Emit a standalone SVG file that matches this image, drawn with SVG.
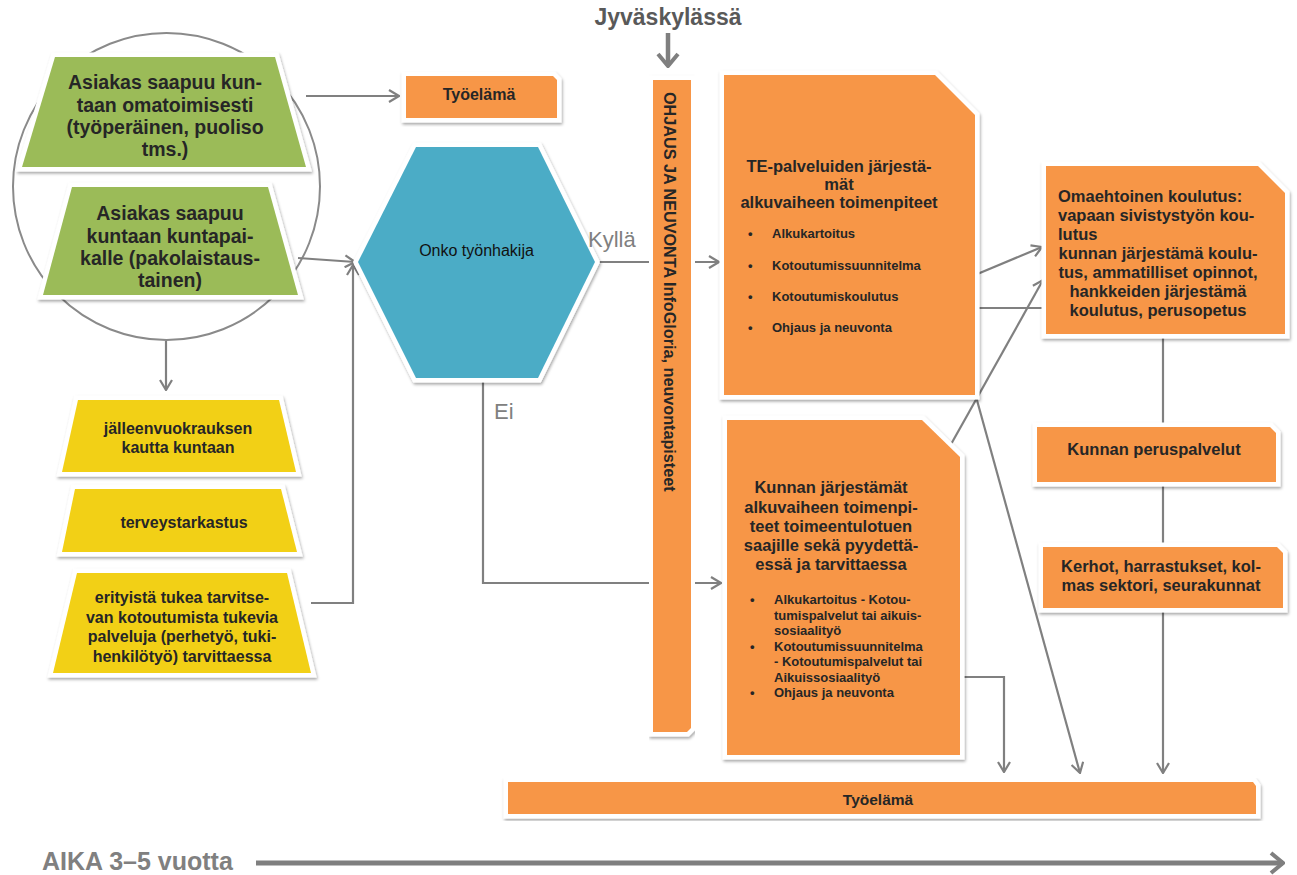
<svg xmlns="http://www.w3.org/2000/svg" width="1297" height="875" viewBox="0 0 1297 875">
<style>
text{font-family:"Liberation Sans",Arial,Helvetica,sans-serif;fill:#262626}
.b{font-weight:bold}
.node{stroke:#fff;stroke-width:9;paint-order:stroke;stroke-linejoin:miter;filter:url(#sh)}
.green{fill:#9BBB59}
.yellow{fill:#F2D014}
.orange{fill:#F79646}
.blue{fill:#4BACC6}
.con{fill:none;stroke:#808080;stroke-width:2.2}
.lbl{fill:#808080;font-size:22px}
.g{font-size:19.5px;font-weight:bold;text-anchor:middle}
.y{font-size:16px;font-weight:bold;text-anchor:middle}
.o{font-size:16.5px;font-weight:bold}
.s{font-size:13px;font-weight:bold}
</style>
<defs>
<filter id="sh" x="-10%" y="-10%" width="120%" height="130%">
<feDropShadow dx="1" dy="2" stdDeviation="1.5" flood-color="#000" flood-opacity="0.35"/>
</filter>
<marker id="ar" markerUnits="userSpaceOnUse" viewBox="0 0 12 14" refX="11" refY="7" markerWidth="12" markerHeight="14" orient="auto">
<path d="M1,1 L11,7 L1,13" fill="none" stroke="#808080" stroke-width="2.2"/>
</marker>
<marker id="arT" markerUnits="userSpaceOnUse" viewBox="0 0 16 24" refX="14" refY="12" markerWidth="16" markerHeight="24" orient="auto">
<path d="M2,2 L14,12 L2,22" fill="none" stroke="#7f7f7f" stroke-width="4"/>
</marker>
</defs>
<rect width="1297" height="875" fill="#fff"/>

<g id="connectors">
<circle cx="166.5" cy="186.5" r="153.5" fill="none" stroke="#8a8a8a" stroke-width="2"/>
<path class="con" d="M306,96 H399" marker-end="url(#ar)"/>
<path class="con" d="M298,258 L355,262" marker-end="url(#ar)"/>
<path class="con" d="M311,603 H353 V265" marker-end="url(#ar)"/>
<path class="con" d="M166,341 V390" marker-end="url(#ar)"/>
<path class="con" d="M598,262 H719" marker-end="url(#ar)"/>
<path class="con" d="M483,378 V583 H721" marker-end="url(#ar)"/>
<path class="con" d="M975,275 L1042,247" marker-end="url(#ar)"/>
<path class="con" d="M975,308 H1046"/>
<path class="con" d="M945,455 L1043,280" marker-end="url(#ar)"/>
<path class="con" d="M975,393 L1080,773" marker-end="url(#ar)"/>
<path class="con" d="M960,677 H1004 V772" marker-end="url(#ar)"/>
<path class="con" d="M1163,334 V427"/>
<path class="con" d="M1163,482 V547"/>
<path class="con" d="M1163,608 V773" marker-end="url(#ar)"/>
<path d="M668,33 V66" fill="none" stroke="#7f7f7f" stroke-width="4.5" marker-end="url(#arT)"/>
<path d="M256,863 H1283" fill="none" stroke="#7f7f7f" stroke-width="5" marker-end="url(#arT)"/>
</g>

<g id="title">
<text x="668" y="25" class="b" style="font-size:23px;fill:#595959" text-anchor="middle">Jyväskylässä</text>
</g>

<g id="n-asiakas1">
<path class="node green" d="M55,57 H275 L306,167 H22 Z"/>
<text class="g" x="165" y="89">Asiakas saapuu kun-</text>
<text class="g" x="165" y="111.5">taan omatoimisesti</text>
<text class="g" x="165" y="134">(työperäinen, puoliso</text>
<text class="g" x="165" y="156">tms.)</text>
</g>

<g id="n-asiakas2">
<path class="node green" d="M72,187 H268 L298,295 H43 Z"/>
<text class="g" x="170" y="220">Asiakas saapuu</text>
<text class="g" x="170" y="242.5">kuntaan kuntapai-</text>
<text class="g" x="170" y="265">kalle (pakolaistaus-</text>
<text class="g" x="170" y="287">tainen)</text>
</g>

<g id="n-jalleen">
<path class="node yellow" d="M78,400 H279 L296,472 H62 Z"/>
<text class="y" x="178" y="434">jälleenvuokrauksen</text>
<text class="y" x="178" y="453">kautta kuntaan</text>
</g>

<g id="n-terveys">
<path class="node yellow" d="M75,489 H281 L297,552 H62 Z"/>
<text class="y" x="184" y="528">terveystarkastus</text>
</g>

<g id="n-erityista">
<path class="node yellow" d="M77,573 H287 L311,673 H53 Z"/>
<text class="y" x="182" y="603">erityistä tukea tarvitse-</text>
<text class="y" x="182" y="622.5">van kotoutumista tukevia</text>
<text class="y" x="182" y="642">palveluja (perhetyö, tuki-</text>
<text class="y" x="182" y="661.5">henkilötyö) tarvittaessa</text>
</g>

<g id="n-tyoelama1">
<path class="node orange" d="M406,76 H553 L557,80 V118 H406 Z"/>
<text class="b" x="479" y="100" style="font-size:16px" text-anchor="middle">Työelämä</text>
</g>

<g id="n-onko">
<path class="node blue" d="M416,147 H538 L595,262 L538,378 H416 L358,262 Z"/>
<text x="476.5" y="256" style="font-size:16px;fill:#111" text-anchor="middle">Onko työnhakija</text>
</g>

<g id="labels">
<text class="lbl" x="588" y="247">Kyllä</text>
<text class="lbl" x="494" y="419">Ei</text>
</g>

<g id="n-ohjaus">
<path class="node orange" d="M653,80 H691 V728 L687,732 H653 Z"/>
<text class="b" transform="translate(664,92) rotate(90)" style="font-size:16.2px">OHJAUS JA NEUVONTA InfoGloria, neuvontapisteet</text>
</g>

<g id="n-te">
<path class="node orange" d="M724,75 H935 L975,115 V395 H724 Z"/>
<text class="o" x="839" y="172" text-anchor="middle">TE-palveluiden järjestä-</text>
<text class="o" x="839" y="190" text-anchor="middle">mät</text>
<text class="o" x="839" y="208" text-anchor="middle">alkuvaiheen toimenpiteet</text>
<g class="s">
<text x="748" y="238">•</text><text x="772" y="238">Alkukartoitus</text>
<text x="748" y="270">•</text><text x="772" y="270">Kotoutumissuunnitelma</text>
<text x="748" y="301">•</text><text x="772" y="301">Kotoutumiskoulutus</text>
<text x="748" y="332">•</text><text x="772" y="332">Ohjaus ja neuvonta</text>
</g>
</g>

<g id="n-kunnan">
<path class="node orange" d="M727,420 H922 L960,457 V755 H727 Z"/>
<text class="o" x="831" y="493" text-anchor="middle">Kunnan järjestämät</text>
<text class="o" x="831" y="512.5" text-anchor="middle">alkuvaiheen toimenpi-</text>
<text class="o" x="831" y="532" text-anchor="middle">teet toimeentulotuen</text>
<text class="o" x="831" y="551" text-anchor="middle">saajille sekä pyydettä-</text>
<text class="o" x="831" y="570" text-anchor="middle">essä ja tarvittaessa</text>
<g class="s">
<text x="750" y="604">•</text><text x="774" y="604">Alkukartoitus - Kotou-</text>
<text x="774" y="619.5">tumispalvelut tai aikuis-</text>
<text x="774" y="635">sosiaalityö</text>
<text x="750" y="650.5">•</text><text x="774" y="650.5">Kotoutumissuunnitelma</text>
<text x="774" y="666">- Kotoutumispalvelut tai</text>
<text x="774" y="681.5">Aikuissosiaalityö</text>
<text x="750" y="697">•</text><text x="774" y="697">Ohjaus ja neuvonta</text>
</g>
</g>

<g id="n-omaehtoinen">
<path class="node orange" d="M1046,166 H1258 L1285,193 V334 H1046 Z"/>
<text class="o" x="1058" y="202">Omaehtoinen koulutus:</text>
<text class="o" x="1058" y="221">vapaan sivistystyön kou-</text>
<text class="o" x="1058" y="240">lutus</text>
<text class="o" x="1158" y="259" text-anchor="middle">kunnan järjestämä koulu-</text>
<text class="o" x="1158" y="278" text-anchor="middle">tus, ammatilliset opinnot,</text>
<text class="o" x="1158" y="297" text-anchor="middle">hankkeiden järjestämä</text>
<text class="o" x="1158" y="316" text-anchor="middle">koulutus, perusopetus</text>
</g>

<g id="n-peruspalvelut">
<path class="node orange" d="M1037,427 H1270 L1276,433 V482 H1037 Z"/>
<text class="o" x="1154" y="455" text-anchor="middle">Kunnan peruspalvelut</text>
</g>

<g id="n-kerhot">
<path class="node orange" d="M1043,547 H1277 L1283,553 V608 H1043 Z"/>
<text class="o" x="1161" y="572" text-anchor="middle">Kerhot, harrastukset, kol-</text>
<text class="o" x="1161" y="591" text-anchor="middle">mas sektori, seurakunnat</text>
</g>

<g id="n-tyoelama2">
<path class="node orange" d="M508,782 H1253 L1256,786 V814 H508 Z"/>
<text class="b" x="878" y="805" style="font-size:15.5px" text-anchor="middle">Työelämä</text>
</g>

<g id="axis">
<text class="b" x="42" y="870" style="font-size:25px;fill:#808080">AIKA 3–5 vuotta</text>
</g>
</svg>
